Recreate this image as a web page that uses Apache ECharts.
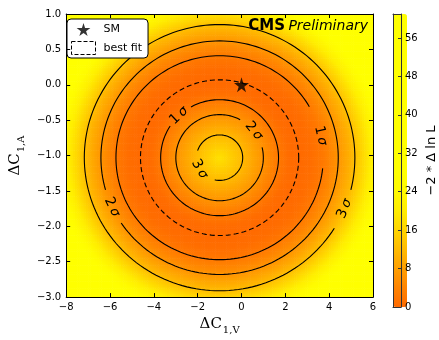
<!DOCTYPE html>
<html>
<head>
<meta charset="utf-8">
<script src="https://cdn.jsdelivr.net/npm/echarts@6/dist/echarts.min.js"></script>
<style>
  body { margin: 0; background: #fff; }
  #chart { width: 439px; height: 340px; }
</style>
</head>
<body>
<div id="chart"></div>
<script>
// best-fit ring: centre and radii (data units)
const ringCenter = [-1.0, -1.03];
const ringRadius = [3.61, 1.10];

// -2*ΔlnL along the radius (rho = distance / best-fit radius)
const profileRho = [0, 0.292, 0.553, 0.745, 0.87, 1.0, 1.15, 1.304, 1.49, 1.69, 2.0, 2.4, 2.8];
const profileVal = [18, 11.83, 6.18, 2.30, 0.5, 0, 0.6, 2.30, 6.18, 11.83, 24, 45, 66];

// contour rings (rho), their labels and the label gaps (degrees)
const contourRho = [0.292, 0.553, 0.745, 1.31, 1.50, 1.71];
const contourLabel = ['3', '2', '1', '1', '2', '3'];
const gapFrom = [162, 15, 120, -5, 196, -31];
const gapTo = [258, 62, 147, 30, 214, -14];
const bestFitRho = 1.0;

const smPoint = [0, 0];

// colour scale for 0..61 (step 61/15)
const cbColors = ['#ff6a00', '#ff8400', '#ffa000', '#ffbc00', '#ffd600', '#ffee00', '#fffb00',
  '#ffff00', '#ffff00', '#ffff00', '#ffff00', '#ffff00', '#ffff00', '#ffff00', '#ffff00', '#ffff00'];

const dx = 0.1, dy = 0.025;
const starPath = 'path://M50,0 L61,35 L98,35 L68,57 L79,91 L50,70 L21,91 L32,57 L2,35 L39,35 Z';

function profile(r) {
  if (r >= profileRho[profileRho.length - 1]) return profileVal[profileVal.length - 1];
  for (let k = 1; k < profileRho.length; k++) {
    if (r <= profileRho[k]) {
      const f = (r - profileRho[k - 1]) / (profileRho[k] - profileRho[k - 1]);
      return profileVal[k - 1] + f * (profileVal[k] - profileVal[k - 1]);
    }
  }
}

const cells = [];
for (let i = 0; i < 140; i++) {
  for (let j = 0; j < 160; j++) {
    const x = -8 + (i + 0.5) * dx;
    const y = -3 + (j + 0.5) * dy;
    const r = Math.hypot((x - ringCenter[0]) / ringRadius[0], (y - ringCenter[1]) / ringRadius[1]);
    cells.push([x, y, profile(r)]);
  }
}

const contourData = contourRho.map((r, k) => [ringCenter[0], ringCenter[1], r, gapFrom[k], gapTo[k]]);

function ringPoints(api, cx, cy, rho, a0, a1) {
  const pts = [];
  for (let a = a0; a <= a1 + 0.001; a += 2) {
    const t = a * Math.PI / 180;
    pts.push(api.coord([cx + rho * ringRadius[0] * Math.cos(t), cy + rho * ringRadius[1] * Math.sin(t)]));
  }
  return pts;
}

const fmtMinus = s => String(s).replace('-', '\u2212');
const frameLine = { show: true, onZero: false, lineStyle: { color: '#000', width: 1 } };
const cbLine = { show: true, onZero: false, lineStyle: { color: '#333', width: 1 } };
const inTick = { inside: true, length: 4, lineStyle: { color: '#000' } };
const nameRich = {
  a: { fontFamily: 'DejaVu Serif', fontSize: 15, color: '#000', lineHeight: 18, verticalAlign: 'top' },
  b: { fontFamily: 'DejaVu Serif', fontSize: 10, color: '#000', lineHeight: 12, verticalAlign: 'top', padding: [8, 0, 0, 1] }
};

const chart = echarts.init(document.getElementById('chart'));
chart.setOption({
  animation: false,
  textStyle: { fontFamily: 'DejaVu Sans' },
  grid: [
    { left: 61, right: 66, top: 14, bottom: 33 },
    { left: 393, width: 14, top: 14, height: 293 }
  ],
  xAxis: [
    {
      gridIndex: 0, type: 'value', min: -8, max: 6, interval: 2, position: 'bottom', z: 5,
      axisLine: frameLine, axisTick: inTick,
      axisLabel: { fontSize: 10, color: '#000', margin: 5, formatter: v => fmtMinus(v) },
      splitLine: { show: false },
      name: '{a|ΔC}{b|1,V}', nameLocation: 'middle', nameGap: 17,
      nameTextStyle: { rich: nameRich }
    },
    {
      gridIndex: 0, type: 'value', min: -8, max: 6, interval: 2, position: 'top', z: 5,
      axisLine: frameLine, axisTick: inTick,
      axisLabel: { show: false }, splitLine: { show: false }
    },
    {
      gridIndex: 1, type: 'value', min: 0, max: 1, position: 'bottom', z: 10,
      axisLine: cbLine, axisTick: { show: false }, axisLabel: { show: false }, splitLine: { show: false }
    },
    {
      gridIndex: 1, type: 'value', min: 0, max: 1, position: 'top', z: 10,
      axisLine: cbLine, axisTick: { show: false }, axisLabel: { show: false }, splitLine: { show: false }
    }
  ],
  yAxis: [
    {
      gridIndex: 0, type: 'value', min: -3, max: 1, interval: 0.5, position: 'left', z: 5,
      axisLine: frameLine, axisTick: inTick,
      axisLabel: { fontSize: 10, color: '#000', margin: 5, formatter: v => fmtMinus(v.toFixed(1)) },
      splitLine: { show: false },
      name: '{a|ΔC}{b|1,A}', nameLocation: 'middle', nameGap: 30, nameRotate: 90,
      nameTextStyle: { rich: nameRich }
    },
    {
      gridIndex: 0, type: 'value', min: -3, max: 1, interval: 0.5, position: 'right', z: 5,
      axisLine: frameLine, axisTick: inTick,
      axisLabel: { show: false }, splitLine: { show: false }
    },
    {
      gridIndex: 1, type: 'value', min: 0, max: 61, interval: 8, position: 'right', z: 10,
      axisLine: cbLine,
      axisTick: { inside: true, length: 3, lineStyle: { color: '#333' } },
      axisLabel: { fontSize: 10, color: '#000', margin: 4, showMaxLabel: false },
      splitLine: { show: false },
      name: '\u22122 * Δ ln L', nameLocation: 'middle', nameGap: 24, nameRotate: 90,
      nameTextStyle: { fontFamily: 'DejaVu Sans', fontSize: 13, color: '#000' }
    },
    {
      gridIndex: 1, type: 'value', min: 0, max: 61, position: 'left', z: 10,
      axisLine: cbLine, axisTick: { show: false }, axisLabel: { show: false }, splitLine: { show: false }
    }
  ],
  visualMap: {
    type: 'continuous', seriesIndex: 0, dimension: 2, min: 0, max: 61,
    inRange: { color: cbColors },
    orient: 'vertical', left: 393, top: 14, itemWidth: 14, itemHeight: 293,
    padding: 0, calculable: false, hoverLink: false, text: null
  },
  legend: {
    orient: 'vertical', left: 67, top: 19, padding: [4, 6, 3, 4], itemGap: 5,
    itemWidth: 24, itemHeight: 13, backgroundColor: '#fff', borderColor: '#000',
    borderWidth: 1, borderRadius: 4, selectedMode: false,
    textStyle: { fontFamily: 'DejaVu Sans', fontSize: 11, color: '#000', padding: [0, 0, 0, 3] },
    data: [
      { name: 'SM', icon: starPath, itemStyle: { color: '#000' } },
      { name: 'best fit', icon: 'rect', itemStyle: { color: '#fff', borderColor: '#000', borderWidth: 1, borderType: 'dashed' } }
    ]
  },
  graphic: [{
    type: 'text', right: 71, top: 19, z: 10,
    style: {
      text: '{b|CMS} {i|Preliminary}', fill: '#000',
      rich: {
        b: { fontFamily: 'DejaVu Sans', fontWeight: 'bold', fontSize: 15, fill: '#000' },
        i: { fontFamily: 'DejaVu Sans', fontStyle: 'italic', fontSize: 14, fill: '#000' }
      }
    }
  }],
  series: [
    {
      name: 'field', type: 'custom', xAxisIndex: 0, yAxisIndex: 0, z: 1, silent: true,
      data: cells, encode: { x: 0, y: 1 },
      renderItem: function (params, api) {
        const p = api.coord([api.value(0) - dx / 2, api.value(1) + dy / 2]);
        const s = api.size([dx, dy]);
        return { type: 'rect', shape: { x: p[0], y: p[1], width: s[0] + 0.6, height: s[1] + 0.6 },
          style: { fill: api.visual('color') } };
      }
    },
    {
      name: 'contours', type: 'custom', xAxisIndex: 0, yAxisIndex: 0, z: 3, silent: true,
      data: contourData, encode: { x: 0, y: 1 },
      renderItem: function (params, api) {
        const cx = api.value(0), cy = api.value(1), rho = api.value(2);
        const g0 = api.value(3), g1 = api.value(4);
        const pts = ringPoints(api, cx, cy, rho, g1, g0 + 360);
        const mid = (g0 + g1) / 2, t = mid * Math.PI / 180;
        const pos = api.coord([cx + rho * ringRadius[0] * Math.cos(t), cy + rho * ringRadius[1] * Math.sin(t)]);
        let rot = ((mid - 90) % 360 + 540) % 360 - 180;
        if (rot > 90 || rot < -90) rot = ((mid + 90) % 360 + 540) % 360 - 180;
        return {
          type: 'group',
          children: [
            { type: 'polyline', shape: { points: pts }, style: { stroke: '#000', lineWidth: 1.1, fill: null } },
            {
              type: 'text', x: pos[0], y: pos[1], rotation: rot * Math.PI / 180,
              style: {
                text: '{n|' + contourLabel[params.dataIndex] + '}{s|\u2009σ}',
                align: 'center', verticalAlign: 'middle',
                rich: {
                  n: { fontFamily: 'DejaVu Sans', fontSize: 14, fill: '#000' },
                  s: { fontFamily: 'DejaVu Sans', fontStyle: 'italic', fontSize: 13, fill: '#000' }
                }
              }
            }
          ]
        };
      }
    },
    {
      name: 'best fit', type: 'custom', xAxisIndex: 0, yAxisIndex: 0, z: 3, silent: true,
      data: [[ringCenter[0], ringCenter[1], bestFitRho]], encode: { x: 0, y: 1 },
      itemStyle: { color: '#000' },
      renderItem: function (params, api) {
        const pts = ringPoints(api, api.value(0), api.value(1), api.value(2), 0, 360);
        return { type: 'polyline', shape: { points: pts },
          style: { stroke: '#000', lineWidth: 1.1, fill: null, lineDash: [5, 3] } };
      }
    },
    {
      name: 'SM', type: 'scatter', xAxisIndex: 0, yAxisIndex: 0, z: 4, silent: true,
      symbol: starPath, symbolSize: 15, itemStyle: { color: '#000' },
      data: [smPoint]
    }
  ]
});
</script>
</body>
</html>
